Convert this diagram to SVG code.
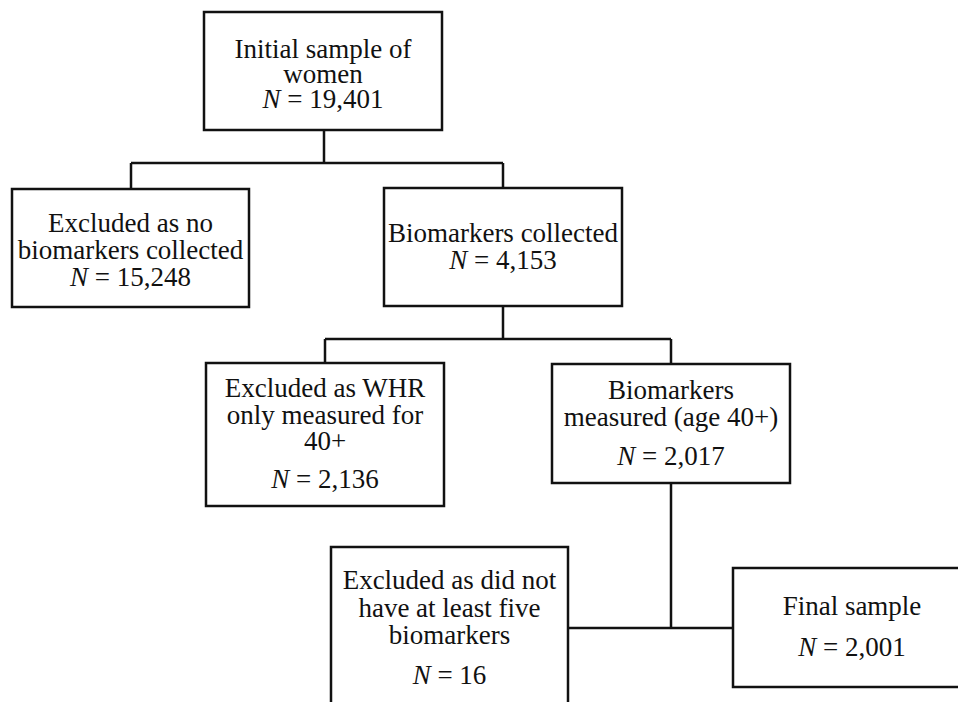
<svg xmlns="http://www.w3.org/2000/svg" width="958" height="702" viewBox="0 0 958 702">
  <style>
    .box { fill: #ffffff; stroke: #111111; stroke-width: 2.5; }
    .wire { fill: none; stroke: #111111; stroke-width: 2.5; }
    text { font-family: "Liberation Serif", "Times New Roman", serif; font-size: 27px; fill: #111111; text-anchor: middle; }
    .it { font-style: italic; }
  </style>
  <rect width="958" height="702" fill="#ffffff"/>

  <g id="connectors">
    <path class="wire" d="M324 130 V163 M131 163 H503 M131 163 V189 M503 163 V188"/>
    <path class="wire" d="M503 306 V339 M325 339 H671 M325 339 V363 M671 339 V364"/>
    <path class="wire" d="M671 483 V628 M568 628 H733"/>
  </g>

  <g id="initial">
    <rect class="box" x="204" y="12" width="238" height="118"/>
    <text x="323" y="58">Initial sample of</text>
    <text x="323" y="83">women</text>
    <text x="323" y="108"><tspan class="it">N</tspan> = 19,401</text>
  </g>

  <g id="excluded-no-biomarkers">
    <rect class="box" x="12" y="189" width="237" height="118"/>
    <text x="130.5" y="232">Excluded as no</text>
    <text x="130.5" y="259">biomarkers collected</text>
    <text x="130.5" y="286"><tspan class="it">N</tspan> = 15,248</text>
  </g>

  <g id="biomarkers-collected">
    <rect class="box" x="384" y="188" width="238" height="118"/>
    <text x="503" y="242">Biomarkers collected</text>
    <text x="503" y="269"><tspan class="it">N</tspan> = 4,153</text>
  </g>

  <g id="excluded-whr">
    <rect class="box" x="206" y="363" width="238" height="143"/>
    <text x="325" y="397">Excluded as WHR</text>
    <text x="325" y="424">only measured for</text>
    <text x="325" y="450">40+</text>
    <text x="325" y="488"><tspan class="it">N</tspan> = 2,136</text>
  </g>

  <g id="biomarkers-measured">
    <rect class="box" x="552" y="364" width="238" height="119"/>
    <text x="671" y="399">Biomarkers</text>
    <text x="671" y="426">measured (age 40+)</text>
    <text x="671" y="465"><tspan class="it">N</tspan> = 2,017</text>
  </g>

  <g id="excluded-five">
    <rect class="box" x="331" y="547" width="237" height="170"/>
    <text x="449.5" y="589">Excluded as did not</text>
    <text x="449.5" y="617">have at least five</text>
    <text x="449.5" y="644">biomarkers</text>
    <text x="449.5" y="684"><tspan class="it">N</tspan> = 16</text>
  </g>

  <g id="final-sample">
    <rect class="box" x="733" y="568" width="240" height="119"/>
    <text x="852" y="615">Final sample</text>
    <text x="852" y="656"><tspan class="it">N</tspan> = 2,001</text>
  </g>
</svg>
